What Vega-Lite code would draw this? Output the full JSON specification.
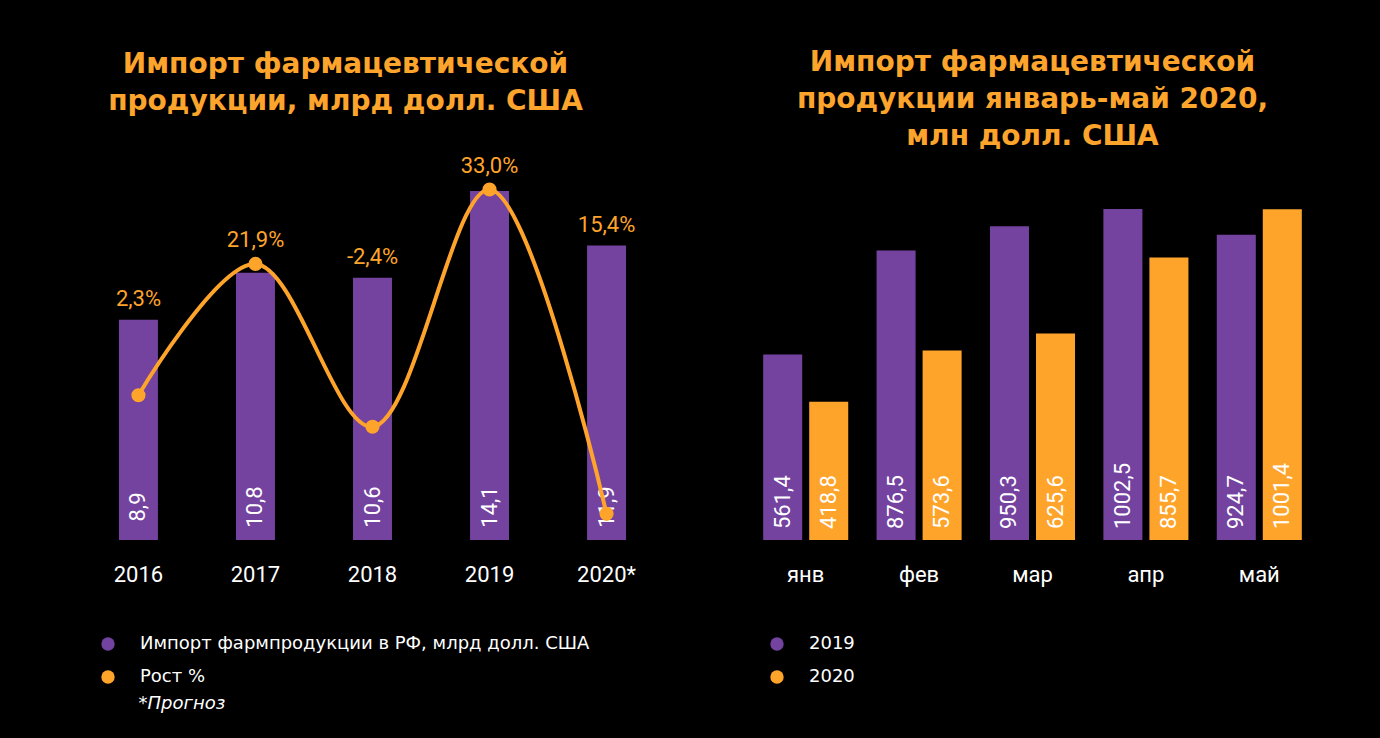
{
  "$schema": "https://vega.github.io/schema/vega-lite/v6.json",
  "background": "#000000",
  "padding": {"left": 80, "top": 49, "right": 65, "bottom": 30},
  "autosize": {"type": "pad"},
  "config": {"view": {"stroke": null}, "font": "Roboto"},
  "spacing": 84,
  "bounds": "flush",
  "resolve": {"scale": {"color": "independent", "x": "independent", "y": "independent"}, "legend": {"color": "independent"}},
  "hconcat": [
    {
      "width": 585,
      "height": 390,
      "title": {"text": ["Импорт фармацевтической", "продукции, млрд долл. США"], "font": "DejaVu Sans", "fontSize": 28, "fontWeight": "bold", "color": "#FCA42C", "anchor": "middle", "dx": -27, "offset": 6, "lineHeight": 37, "baseline": "bottom"},
      "data": {"values": [
        {"year": "2016", "import": 8.9, "import_label": "8,9", "growth": 2.3, "growth_label": "2,3%"},
        {"year": "2017", "import": 10.8, "import_label": "10,8", "growth": 21.9, "growth_label": "21,9%"},
        {"year": "2018", "import": 10.6, "import_label": "10,6", "growth": -2.4, "growth_label": "-2,4%"},
        {"year": "2019", "import": 14.1, "import_label": "14,1", "growth": 33.0, "growth_label": "33,0%"},
        {"year": "2020*", "import": 11.9, "import_label": "11,9", "growth": -15.4, "growth_label": "15,4%"}
      ]},
      "resolve": {"scale": {"y": "independent"}},
      "encoding": {
        "x": {"field": "year", "type": "nominal", "sort": null,
          "scale": {"paddingInner": 0.667, "paddingOuter": 0.333},
          "axis": {"labelAngle": 0, "labelFont": "Roboto", "labelFontSize": 22, "labelColor": "#FFFFFF", "labelPadding": 24, "ticks": false, "tickSize": 0, "domain": false, "grid": false,
            "title": "*Прогноз", "titleFont": "DejaVu Sans", "titleFontSize": 18, "titleFontStyle": "italic", "titleFontWeight": "normal", "titleColor": "#FFFFFF", "titleAlign": "left", "titleAnchor": "start", "titleBaseline": "middle", "titleX": 58, "titleY": 163}}
      },
      "layer": [
        {
          "mark": {"type": "bar"},
          "encoding": {
            "y": {"field": "import", "type": "quantitative", "scale": {"domain": [0, 15.76]}, "axis": null},
            "color": {"datum": "Импорт фармпродукции в РФ, млрд долл. США", "type": "nominal",
              "scale": {"domain": ["Импорт фармпродукции в РФ, млрд долл. США", "Рост %"], "range": ["#74429F", "#FFA42B"]},
              "legend": {"orient": "none", "legendX": 19, "legendY": 485, "direction": "vertical", "title": null, "symbolType": "circle", "symbolSize": 180, "symbolStrokeWidth": 0, "labelFont": "DejaVu Sans", "labelFontSize": 18, "labelColor": "#FFFFFF", "labelOffset": 23, "rowPadding": 15, "labelLimit": 700}}
          }
        },
        {
          "mark": {"type": "text", "angle": 270, "align": "center", "baseline": "middle", "dx": 33, "color": "#FFFFFF", "font": "Roboto", "fontSize": 22},
          "encoding": {
            "y": {"datum": 0, "type": "quantitative", "scale": {"domain": [0, 15.76]}, "axis": null},
            "text": {"field": "import_label"}
          }
        },
        {
          "mark": {"type": "line", "interpolate": "catmull-rom", "color": "#FFA42B", "strokeWidth": 4},
          "encoding": {
            "y": {"field": "growth", "type": "quantitative", "scale": {"domain": [-19.3, 38.9]}, "axis": null}
          }
        },
        {
          "mark": {"type": "point", "filled": true, "size": 200, "opacity": 1},
          "encoding": {
            "y": {"field": "growth", "type": "quantitative", "scale": {"domain": [-19.3, 38.9]}, "axis": null},
            "color": {"datum": "Рост %", "type": "nominal"}
          }
        },
        {
          "mark": {"type": "text", "align": "center", "baseline": "middle", "color": "#FFA42B", "font": "Roboto", "fontSize": 22,
            "dy": {"expr": "-21 + min(0, 24.75*datum.import - 132 - 6.7*datum.growth)"}},
          "encoding": {
            "y": {"field": "import", "type": "quantitative", "scale": {"domain": [0, 15.76]}, "axis": null},
            "text": {"field": "growth_label"}
          }
        }
      ]
    },
    {
      "width": 567,
      "height": 390,
      "title": {"text": ["Импорт фармацевтической", "продукции январь-май 2020,", "млн долл. США"], "font": "DejaVu Sans", "fontSize": 28, "fontWeight": "bold", "color": "#FCA42C", "anchor": "middle", "offset": -29, "lineHeight": 37, "baseline": "bottom"},
      "data": {"values": [
        {"month": "янв", "year": "2019", "value": 561.4, "label": "561,4"},
        {"month": "янв", "year": "2020", "value": 418.8, "label": "418,8"},
        {"month": "фев", "year": "2019", "value": 876.5, "label": "876,5"},
        {"month": "фев", "year": "2020", "value": 573.6, "label": "573,6"},
        {"month": "мар", "year": "2019", "value": 950.3, "label": "950,3"},
        {"month": "мар", "year": "2020", "value": 625.6, "label": "625,6"},
        {"month": "апр", "year": "2019", "value": 1002.5, "label": "1002,5"},
        {"month": "апр", "year": "2020", "value": 855.7, "label": "855,7"},
        {"month": "май", "year": "2019", "value": 924.7, "label": "924,7"},
        {"month": "май", "year": "2020", "value": 1001.4, "label": "1001,4"}
      ]},
      "encoding": {
        "x": {"field": "month", "type": "nominal", "sort": null,
          "scale": {"paddingInner": 0.25, "paddingOuter": 0.125},
          "axis": {"labelAngle": 0, "labelFont": "Roboto", "labelFontSize": 22, "labelColor": "#FFFFFF", "labelPadding": 24, "ticks": false, "tickSize": 0, "domain": false, "grid": false, "title": null}},
        "xOffset": {"field": "year", "type": "nominal", "scale": {"paddingInner": 0.152, "paddingOuter": 0}}
      },
      "layer": [
        {
          "mark": {"type": "bar"},
          "encoding": {
            "y": {"field": "value", "type": "quantitative", "scale": {"domain": [0, 1181]}, "axis": null},
            "color": {"field": "year", "type": "nominal",
              "scale": {"domain": ["2019", "2020"], "range": ["#74429F", "#FFA42B"]},
              "legend": {"orient": "none", "legendX": 19, "legendY": 485, "direction": "vertical", "title": null, "symbolType": "circle", "symbolSize": 180, "symbolStrokeWidth": 0, "labelFont": "DejaVu Sans", "labelFontSize": 18, "labelColor": "#FFFFFF", "labelOffset": 23, "rowPadding": 15}}
          }
        },
        {
          "mark": {"type": "text", "angle": 270, "align": "left", "baseline": "middle", "dx": 11, "color": "#FFFFFF", "font": "Roboto", "fontSize": 22},
          "encoding": {
            "y": {"datum": 0, "type": "quantitative", "scale": {"domain": [0, 1181]}, "axis": null},
            "text": {"field": "label"}
          }
        }
      ]
    }
  ]
}
